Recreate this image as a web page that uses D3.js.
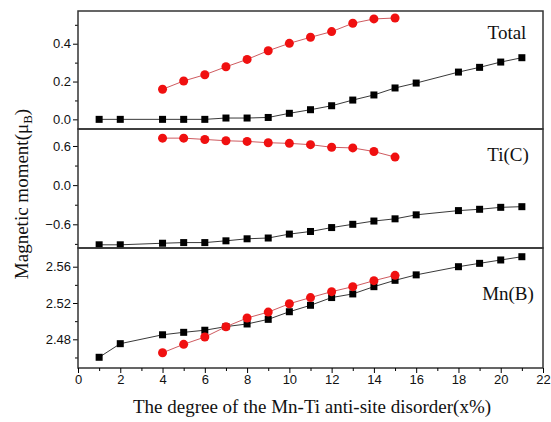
<!DOCTYPE html>
<html>
<head>
<meta charset="utf-8">
<script src="https://cdn.jsdelivr.net/npm/d3@7"></script>
<style>
  body { margin: 0; background: #fff; }
  svg text { fill: #111; }
</style>
</head>
<body>
<div id="chart"></div>
<script>
// x values (degree of disorder, %)
var xBlack = [1, 2, 4, 5, 6, 7, 8, 9, 10, 11, 12, 13, 14, 15, 16, 18, 19, 20, 21];
var xRed = [4, 5, 6, 7, 8, 9, 10, 11, 12, 13, 14, 15];

// Total
var totalBlack = [0, 0, 0, 0, 0, 0.007, 0.007, 0.01, 0.032, 0.051, 0.072, 0.102, 0.129, 0.166, 0.192, 0.25, 0.275, 0.303, 0.326];
var totalRed = [0.159, 0.203, 0.236, 0.278, 0.317, 0.363, 0.402, 0.434, 0.464, 0.508, 0.531, 0.536];

// Ti(C)
var tiBlack = [-0.914, -0.914, -0.89, -0.88, -0.88, -0.853, -0.822, -0.81, -0.75, -0.71, -0.65, -0.60, -0.55, -0.516, -0.455, -0.39, -0.37, -0.34, -0.33];
var tiRed = [0.72, 0.72, 0.70, 0.68, 0.67, 0.65, 0.64, 0.62, 0.58, 0.57, 0.515, 0.43];

// Mn(B)
var mnBlack = [2.4602, 2.4752, 2.485, 2.4877, 2.490, 2.494, 2.4969, 2.502, 2.5104, 2.5175, 2.526, 2.530, 2.538, 2.545, 2.551, 2.560, 2.5637, 2.5674, 2.571];
var mnRed = [2.4652, 2.4745, 2.4825, 2.4939, 2.5035, 2.510, 2.5192, 2.526, 2.5325, 2.538, 2.5446, 2.5505];

var xTicks = [0, 2, 4, 6, 8, 10, 12, 14, 16, 18, 20, 22];

var panels = [
    {label: "Total", black: totalBlack, red: totalRed, domain: [-0.051, 0.573],
     ticks: [0.0, 0.2, 0.4], minor: [0.1, 0.3, 0.5], fmt: ".1f", top: 11, bottom: 129},
    {label: "Ti(C)", black: tiBlack, red: tiRed, domain: [-0.963, 0.86],
     ticks: [-0.6, 0.0, 0.6], minor: [-0.9, -0.3, 0.3], fmt: ".1f", top: 129, bottom: 248},
    {label: "Mn(B)", black: mnBlack, red: mnRed, domain: [2.4484, 2.5806],
     ticks: [2.48, 2.52, 2.56], minor: [2.46, 2.50, 2.54], fmt: ".2f", top: 248, bottom: 368}
];

var width = 551, height = 422;
var left = 78, right = 543;

var svg = d3.select("#chart").append("svg")
    .attr("width", width)
    .attr("height", height);

var x = d3.scaleLinear().domain([0, 22]).range([left, right]);

for (var i = 0; i < panels.length; i++) {
    var p = panels[i];
    var y = d3.scaleLinear().domain(p.domain).range([p.bottom, p.top]);

    var g = svg.append("g");

    // minor ticks
    g.append("g")
        .attr("transform", "translate(" + left + ",0)")
        .call(d3.axisLeft(y).tickValues(p.minor).tickSize(3).tickFormat(""))
        .call(function(a) { a.select(".domain").remove(); });

    var ay = g.append("g")
        .attr("transform", "translate(" + left + ",0)")
        .call(d3.axisLeft(y).tickValues(p.ticks).tickSize(5).tickPadding(2).tickFormat(d3.format(p.fmt)));
    ay.select(".domain").remove();
    ay.selectAll("text")
        .style("font-family", "'Liberation Sans', Arial, sans-serif")
        .style("font-size", "13px");

    var line = d3.line()
        .x(function(d) { return x(d[0]); })
        .y(function(d) { return y(d[1]); });

    var blackPts = d3.zip(xBlack, p.black);
    var redPts = d3.zip(xRed, p.red);

    g.append("path")
        .attr("d", line(blackPts))
        .attr("fill", "none")
        .attr("stroke", "#222")
        .attr("stroke-width", 0.9);

    g.append("path")
        .attr("d", line(redPts))
        .attr("fill", "none")
        .attr("stroke", "#c8484e")
        .attr("stroke-width", 0.9);

    g.selectAll(".sq")
        .data(blackPts)
        .enter().append("rect")
        .attr("x", function(d) { return x(d[0]) - 3.5; })
        .attr("y", function(d) { return y(d[1]) - 3.5; })
        .attr("width", 7)
        .attr("height", 7)
        .attr("fill", "#000");

    g.selectAll(".ci")
        .data(redPts)
        .enter().append("circle")
        .attr("cx", function(d) { return x(d[0]); })
        .attr("cy", function(d) { return y(d[1]); })
        .attr("r", 4.5)
        .attr("fill", "#f01010");

    // frame
    g.append("rect")
        .attr("x", left)
        .attr("y", p.top)
        .attr("width", right - left)
        .attr("height", p.bottom - p.top)
        .attr("fill", "none")
        .attr("stroke", "#333")
        .attr("stroke-width", 1.5);
}

// panel labels
var labelPos = [[507, 39], [508, 161], [508, 300]];
svg.selectAll(".plab")
    .data(panels)
    .enter().append("text")
    .attr("x", function(d, i) { return labelPos[i][0]; })
    .attr("y", function(d, i) { return labelPos[i][1]; })
    .attr("text-anchor", "middle")
    .style("font-family", "'Liberation Serif', 'Times New Roman', serif")
    .style("font-size", "19px")
    .text(function(d) { return d.label; });

// x axis
svg.append("g")
    .attr("transform", "translate(0,368)")
    .call(d3.axisBottom(x).tickValues(d3.range(1, 22, 2)).tickSize(3).tickFormat(""))
    .call(function(a) { a.select(".domain").remove(); });

var ax = svg.append("g")
    .attr("transform", "translate(0,368)")
    .call(d3.axisBottom(x).tickValues(xTicks).tickSize(5).tickPadding(2));
ax.select(".domain").remove();
ax.selectAll("text")
    .style("font-family", "'Liberation Sans', Arial, sans-serif")
    .style("font-size", "13px");

svg.append("text")
    .attr("x", 312)
    .attr("y", 413)
    .attr("text-anchor", "middle")
    .style("font-family", "'Liberation Serif', 'Times New Roman', serif")
    .style("font-size", "19px")
    .text("The degree of the Mn-Ti anti-site disorder(x%)");

var yl = svg.append("text")
    .attr("transform", "translate(28,194) rotate(-90)")
    .attr("text-anchor", "middle")
    .style("font-family", "'Liberation Serif', 'Times New Roman', serif")
    .style("font-size", "19px");
yl.append("tspan").text("Magnetic moment(μ");
yl.append("tspan").attr("dy", 4).style("font-size", "13px").text("B");
yl.append("tspan").attr("dy", -4).text(")");
</script>
</body>
</html>
